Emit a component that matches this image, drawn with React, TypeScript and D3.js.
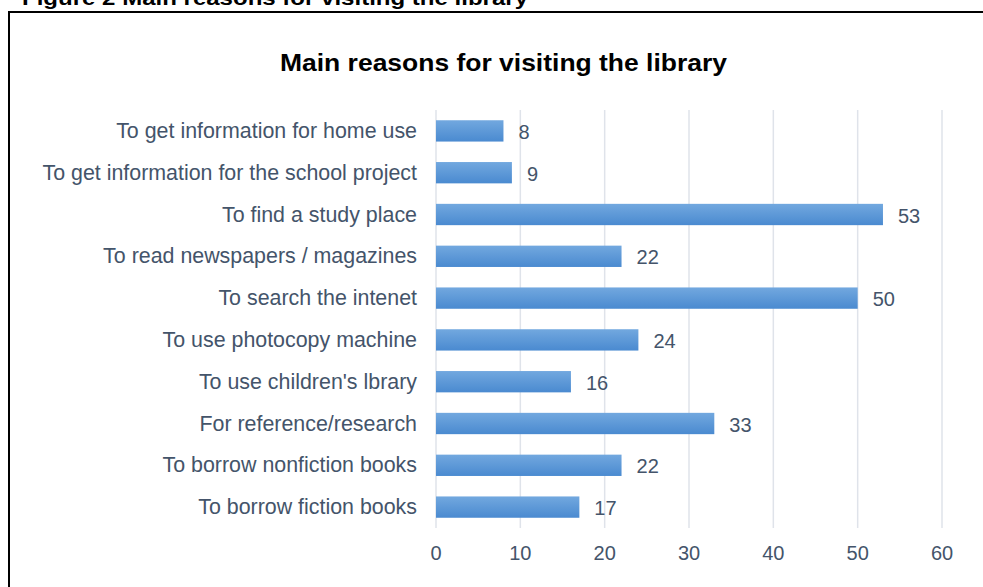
import React from "react";
import * as d3 from "d3";

const categories = [
  "To get information for home use",
  "To get information for the school project",
  "To find a study place",
  "To read newspapers / magazines",
  "To search the intenet",
  "To use photocopy machine",
  "To use children's lbrary",
  "For reference/research",
  "To borrow nonfiction books",
  "To borrow fiction books",
];
const values = [8, 9, 53, 22, 50, 24, 16, 33, 22, 17];
const ticks = [0, 10, 20, 30, 40, 50, 60];

const W = 983;
const H = 587;
const FONT = "Liberation Sans, Arial, sans-serif";
const TXT = "#44546A";

export default function App() {
  const x = d3.scaleLinear().domain([0, 60]).range([436, 942]);
  const y = d3.scaleBand<string>().domain(categories).range([110, 528]).paddingInner(0.49).paddingOuter(0.245);
  return (
    <svg width={W} height={H} style={{ position: "absolute", left: 0, top: 0, background: "#fff" }} fontFamily={FONT}>
      <defs>
        <linearGradient id="barg" x1="0" y1="0" x2="0" y2="1">
          <stop offset="0" stopColor="#72a8df" />
          <stop offset="1" stopColor="#4a8ad0" />
        </linearGradient>
      </defs>
      <rect x={0} y={0} width={W} height={H} fill="#fff" />
      <text x={22} y={5} fontSize={20.3} fontWeight="bold" fill="#000" textLength={506} lengthAdjust="spacingAndGlyphs">
        Figure 2 Main reasons for visiting the library
      </text>
      <rect x={9} y={12} width={W + 20} height={H + 20} fill="none" stroke="#000" strokeWidth={2} />
      <text x={503.5} y={71} textAnchor="middle" fontSize={24} fontWeight="bold" fill="#000" textLength={447} lengthAdjust="spacingAndGlyphs">
        Main reasons for visiting the library
      </text>
      {ticks.map((t) => (
        <g key={t}>
          <line x1={x(t)} x2={x(t)} y1={110} y2={528} stroke="#dfe3ea" strokeWidth={1.5} />
          <text x={x(t)} y={560} textAnchor="middle" fontSize={20} fill={TXT}>
            {t}
          </text>
        </g>
      ))}
      {categories.map((c, i) => {
        const by = y(c)!;
        const bh = y.bandwidth();
        return (
          <g key={c}>
            <rect x={x(0)} y={by} width={x(values[i]) - x(0)} height={bh} fill="url(#barg)" />
            <text x={417} y={by + bh / 2 + 7} textAnchor="end" fontSize={21.4} fill={TXT}>
              {c}
            </text>
            <text x={x(values[i]) + 15} y={by + bh / 2 + 8} fontSize={20} fill={TXT}>
              {values[i]}
            </text>
          </g>
        );
      })}
    </svg>
  );
}
